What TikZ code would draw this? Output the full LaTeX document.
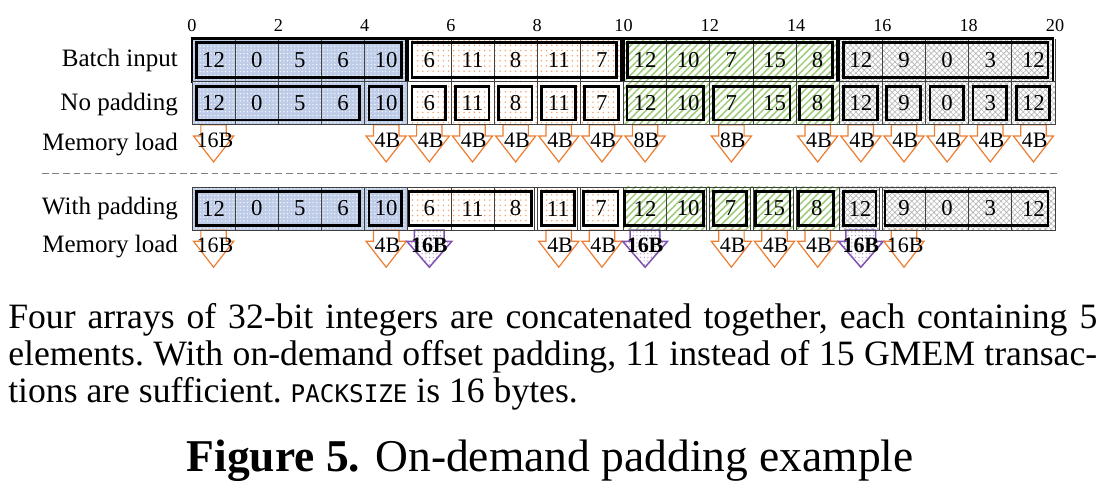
\documentclass[tikz,border=0pt]{standalone}
\usepackage{fontspec}
\setmainfont{Liberation Serif}
\newfontfamily\capmono{DejaVu Sans Mono}
\usepackage{tikz}
\usetikzlibrary{patterns,patterns.meta,positioning}
\definecolor{arrblue}{RGB}{190,204,232}
\definecolor{arrorange}{RGB}{244,164,112}
\definecolor{arrgreen}{RGB}{158,204,124}
\definecolor{arrgray}{RGB}{180,180,180}
\definecolor{ldorange}{RGB}{237,125,49}
\definecolor{ldpurple}{RGB}{128,82,178}
\newcommand{\memload}[4]{%
  \filldraw[draw=ldorange, fill=white, line width=0.8pt] (#2-0.295,#3) -- (#2-0.295,#3-0.26) -- (#2-0.465,#3-0.26) -- (#2,#3-0.86) -- (#2+0.465,#3-0.26) -- (#2+0.295,#3-0.26) -- (#2+0.295,#3) -- cycle;
  \node[font=\fontsize{14.5}{16}\selectfont, inner sep=0pt] (#1) at (#2+0.03,#3-0.35) {#4};}
\newcommand{\packload}[4]{%
  \fill[white] (#2-0.345,#3) -- (#2-0.345,#3-0.26) -- (#2-0.52,#3-0.26) -- (#2,#3-0.86) -- (#2+0.52,#3-0.26) -- (#2+0.345,#3-0.26) -- (#2+0.345,#3) -- cycle;
  \draw[draw=ldpurple, pattern={Dots[radius=0.45pt, distance=2.4pt]}, pattern color=ldpurple!60, line width=1pt] (#2-0.345,#3) -- (#2-0.345,#3-0.26) -- (#2-0.52,#3-0.26) -- (#2,#3-0.86) -- (#2+0.52,#3-0.26) -- (#2+0.345,#3-0.26) -- (#2+0.345,#3) -- cycle;
  \node[font=\fontsize{14.5}{16}\selectfont\bfseries, inner sep=0pt] (#1) at (#2,#3-0.35) {#4};}

\begin{document}
\begin{tikzpicture}[
    cell/.style={font=\fontsize{15}{17}\selectfont},
    tick/.style={font=\fontsize{12}{14}\selectfont},
    rowlabel/.style={font=\fontsize{16.5}{18}\selectfont, anchor=base east, inner sep=0pt},
    captext/.style={font=\fontsize{23.5}{27}\selectfont\frenchspacing, anchor=base west, inner sep=0pt},
    bluearr/.style={preaction={fill=arrblue}, pattern={Dots[radius=0.45pt, distance=2.4pt]}, pattern color=white},
    orangearr/.style={preaction={fill=white}, pattern={Dots[radius=0.55pt, distance=3.4pt]}, pattern color=arrorange},
    greenarr/.style={preaction={fill=white}, pattern={Lines[angle=45, distance=3.4pt, line width=1pt]}, pattern color=arrgreen},
    grayarr/.style={preaction={fill=white}, pattern={Hatch[angle=45, distance=2.6pt, line width=0.4pt]}, pattern color=arrgray},
    cellgrid/.style={draw=black!75, line width=0.5pt},
    padcell/.style={draw=black!75, line width=0.5pt, fill=white},
    arrbox/.style={draw=black, line width=1.4pt},
    ldbox/.style={draw=black, line width=1.8pt},
    sepline/.style={draw=black!50, line width=0.7pt, dash pattern=on 4.4pt off 2.6pt}
  ]
  \useasboundingbox (-4.450,-9.555) rectangle (21.460,1.893);

  \node[tick] (t0) at (0,1.31) {0};
  \node[tick] (t2) at (2,1.31) {2};
  \node[tick] (t4) at (4,1.31) {4};
  \node[tick] (t6) at (6,1.31) {6};
  \node[tick] (t8) at (8,1.31) {8};
  \node[tick] (t10) at (10,1.31) {10};
  \node[tick] (t12) at (12,1.31) {12};
  \node[tick] (t14) at (14,1.31) {14};
  \node[tick] (t16) at (16,1.31) {16};
  \node[tick] (t18) at (18,1.31) {18};
  \node[tick] (t20) at (20,1.31) {20};

  \node[rowlabel] (lbatch) at (-0.32,0.35) {Batch input};
  \node[rowlabel] (lnopad) at (-0.32,-0.66) {No padding};
  \node[rowlabel] (lmem1) at (-0.32,-1.60) {Memory load};
  \node[rowlabel] (lwpad) at (-0.32,-3.07) {With padding};
  \node[rowlabel] (lmem2) at (-0.32,-3.96) {Memory load};

  % batch input
  \path[bluearr] (0,0) rectangle (4.95,1);
  \path[orangearr] (5,0) rectangle (9.95,1);
  \path[greenarr] (10,0) rectangle (14.95,1);
  \path[grayarr] (15,0) rectangle (19.95,1);
  \draw[cellgrid, xstep=1, ystep=10] (0,0) grid (20,1);
  \draw[arrbox] (0,0) rectangle (4.95,1);
  \draw[arrbox] (5,0) rectangle (9.95,1);
  \draw[arrbox] (10,0) rectangle (14.95,1);
  \draw[arrbox] (15,0) rectangle (19.95,1);
  \draw[ldbox] (0.1,0.1) rectangle (4.86,0.9);
  \draw[ldbox] (5.1,0.1) rectangle (9.84,0.9);
  \draw[ldbox] (10.1,0.1) rectangle (14.84,0.9);
  \draw[ldbox] (15.1,0.1) rectangle (19.84,0.9);

  % no padding
  \path[bluearr] (0,-1) rectangle (5,0);
  \path[orangearr] (5,-1) rectangle (10,0);
  \path[greenarr] (10,-1) rectangle (15,0);
  \path[grayarr] (15,-1) rectangle (20,0);
  \memload{m1}{0.5}{-1}{16B}
  \memload{m2}{4.5}{-1}{4B}
  \memload{m3}{5.5}{-1}{4B}
  \memload{m4}{6.5}{-1}{4B}
  \memload{m5}{7.5}{-1}{4B}
  \memload{m6}{8.5}{-1}{4B}
  \memload{m7}{9.5}{-1}{4B}
  \memload{m8}{10.5}{-1}{8B}
  \memload{m9}{12.5}{-1}{8B}
  \memload{m10}{14.5}{-1}{4B}
  \memload{m11}{15.5}{-1}{4B}
  \memload{m12}{16.5}{-1}{4B}
  \memload{m13}{17.5}{-1}{4B}
  \memload{m14}{18.5}{-1}{4B}
  \memload{m15}{19.5}{-1}{4B}
  \draw[cellgrid, xstep=1, ystep=10] (0,-1) grid (20,0);
  \draw[cellgrid] (0,-1) rectangle (20,0);
  \draw[ldbox] (0.1,-0.89) rectangle (3.88,-0.11);
  \draw[ldbox] (4.1,-0.89) rectangle (4.86,-0.11);
  \draw[ldbox] (5.1,-0.89) rectangle (5.88,-0.11);
  \draw[ldbox] (6.1,-0.89) rectangle (6.88,-0.11);
  \draw[ldbox] (7.1,-0.89) rectangle (7.88,-0.11);
  \draw[ldbox] (8.1,-0.89) rectangle (8.88,-0.11);
  \draw[ldbox] (9.1,-0.89) rectangle (9.88,-0.11);
  \draw[ldbox] (10.08,-0.89) rectangle (11.86,-0.11);
  \draw[ldbox] (12.08,-0.89) rectangle (13.86,-0.11);
  \draw[ldbox] (14.08,-0.89) rectangle (14.84,-0.11);
  \draw[ldbox] (15.1,-0.89) rectangle (15.88,-0.11);
  \draw[ldbox] (16.1,-0.89) rectangle (16.88,-0.11);
  \draw[ldbox] (17.1,-0.89) rectangle (17.88,-0.11);
  \draw[ldbox] (18.1,-0.89) rectangle (18.88,-0.11);
  \draw[ldbox] (19.1,-0.89) rectangle (19.88,-0.11);

  \coordinate (sepl) at (-3.48,-2.12);
  \coordinate (sepr) at (20.1,-2.12);
  \draw[sepline] (sepl) -- (sepr);

  % with padding
  \path[bluearr] (0,-3.44) rectangle (5,-2.44);
  \path[orangearr] (5,-3.44) rectangle (10,-2.44);
  \path[greenarr] (10,-3.44) rectangle (15,-2.44);
  \path[grayarr] (15,-3.44) rectangle (20,-2.44);
  \memload{w1}{0.5}{-3.44}{16B}
  \memload{w2}{4.5}{-3.44}{4B}
  \packload{w3}{5.5}{-3.44}{16B}
  \memload{w4}{8.5}{-3.44}{4B}
  \memload{w5}{9.5}{-3.44}{4B}
  \packload{w6}{10.5}{-3.44}{16B}
  \memload{w7}{12.5}{-3.44}{4B}
  \memload{w8}{13.5}{-3.44}{4B}
  \memload{w9}{14.5}{-3.44}{4B}
  \packload{w10}{15.5}{-3.44}{16B}
  \memload{w11}{16.5}{-3.44}{16B}
  \draw[cellgrid, xstep=1, ystep=10] (0,-3.44) grid (20,-2.44);
  \draw[cellgrid] (0,-3.44) rectangle (20,-2.44);
  \draw[padcell] (7.93,-3.44) rectangle (8,-2.44);
  \draw[padcell] (8.93,-3.44) rectangle (9,-2.44);
  \draw[padcell] (11.93,-3.44) rectangle (12,-2.44);
  \draw[padcell] (12.93,-3.44) rectangle (13,-2.44);
  \draw[padcell] (13.93,-3.44) rectangle (14,-2.44);
  \draw[padcell] (15.93,-3.44) rectangle (16,-2.44);
  \draw[ldbox] (0.1,-3.33) rectangle (3.88,-2.55);
  \draw[ldbox] (4.1,-3.33) rectangle (4.86,-2.55);
  \draw[ldbox] (5.03,-3.33) rectangle (7.87,-2.55);
  \draw[ldbox] (8.1,-3.33) rectangle (8.87,-2.55);
  \draw[ldbox] (9.08,-3.33) rectangle (9.87,-2.55);
  \draw[ldbox] (10.03,-3.33) rectangle (11.86,-2.55);
  \draw[ldbox] (12.08,-3.33) rectangle (12.85,-2.55);
  \draw[ldbox] (13.06,-3.33) rectangle (13.86,-2.55);
  \draw[ldbox] (14.06,-3.33) rectangle (14.86,-2.55);
  \draw[ldbox] (15.09,-3.33) rectangle (15.85,-2.55);
  \draw[ldbox] (16.06,-3.33) rectangle (19.84,-2.55);

  \node[cell] (b1) at (0.5,0.5) {12};
  \node[cell] (b2) at (1.5,0.5) {0};
  \node[cell] (b3) at (2.5,0.5) {5};
  \node[cell] (b4) at (3.5,0.5) {6};
  \node[cell] (b5) at (4.5,0.5) {10};
  \node[cell] (b6) at (5.5,0.5) {6};
  \node[cell] (b7) at (6.5,0.5) {11};
  \node[cell] (b8) at (7.5,0.5) {8};
  \node[cell] (b9) at (8.5,0.5) {11};
  \node[cell] (b10) at (9.5,0.5) {7};
  \node[cell] (b11) at (10.5,0.5) {12};
  \node[cell] (b12) at (11.5,0.5) {10};
  \node[cell] (b13) at (12.5,0.5) {7};
  \node[cell] (b14) at (13.5,0.5) {15};
  \node[cell] (b15) at (14.5,0.5) {8};
  \node[cell] (b16) at (15.5,0.5) {12};
  \node[cell] (b17) at (16.5,0.5) {9};
  \node[cell] (b18) at (17.5,0.5) {0};
  \node[cell] (b19) at (18.5,0.5) {3};
  \node[cell] (b20) at (19.5,0.5) {12};

  \node[cell] (n1) at (0.5,-0.5) {12};
  \node[cell] (n2) at (1.5,-0.5) {0};
  \node[cell] (n3) at (2.5,-0.5) {5};
  \node[cell] (n4) at (3.5,-0.5) {6};
  \node[cell] (n5) at (4.5,-0.5) {10};
  \node[cell] (n6) at (5.5,-0.5) {6};
  \node[cell] (n7) at (6.5,-0.5) {11};
  \node[cell] (n8) at (7.5,-0.5) {8};
  \node[cell] (n9) at (8.5,-0.5) {11};
  \node[cell] (n10) at (9.5,-0.5) {7};
  \node[cell] (n11) at (10.5,-0.5) {12};
  \node[cell] (n12) at (11.5,-0.5) {10};
  \node[cell] (n13) at (12.5,-0.5) {7};
  \node[cell] (n14) at (13.5,-0.5) {15};
  \node[cell] (n15) at (14.5,-0.5) {8};
  \node[cell] (n16) at (15.5,-0.5) {12};
  \node[cell] (n17) at (16.5,-0.5) {9};
  \node[cell] (n18) at (17.5,-0.5) {0};
  \node[cell] (n19) at (18.5,-0.5) {3};
  \node[cell] (n20) at (19.5,-0.5) {12};

  \node[cell] (p1) at (0.5,-2.94) {12};
  \node[cell] (p2) at (1.5,-2.94) {0};
  \node[cell] (p3) at (2.5,-2.94) {5};
  \node[cell] (p4) at (3.5,-2.94) {6};
  \node[cell] (p5) at (4.5,-2.94) {10};
  \node[cell] (p6) at (5.5,-2.94) {6};
  \node[cell] (p7) at (6.5,-2.94) {11};
  \node[cell] (p8) at (7.5,-2.94) {8};
  \node[cell] (p9) at (8.48,-2.94) {11};
  \node[cell] (p10) at (9.48,-2.94) {7};
  \node[cell] (p11) at (10.5,-2.94) {12};
  \node[cell] (p12) at (11.5,-2.94) {10};
  \node[cell] (p13) at (12.48,-2.94) {7};
  \node[cell] (p14) at (13.48,-2.94) {15};
  \node[cell] (p15) at (14.48,-2.94) {8};
  \node[cell] (p16) at (15.48,-2.94) {12};
  \node[cell] (p17) at (16.5,-2.94) {9};
  \node[cell] (p18) at (17.5,-2.94) {0};
  \node[cell] (p19) at (18.5,-2.94) {3};
  \node[cell] (p20) at (19.5,-2.94) {12};

  \node[captext] (cap1) at (-4.264,-5.731) {\makebox[718pt][s]{Four arrays of 32-bit integers are concatenated together, each containing 5}};
  \node[captext] (cap2) at (-4.264,-6.582) {\makebox[718pt][s]{elements. With on-demand offset padding, 11 instead of 15 GMEM transac-}};
  \node[captext] (cap3) at (-4.264,-7.430) {tions are sufficient. {\capmono\fontsize{16}{18}\selectfont PACKSIZE} is 16 bytes.};
  \node[font=\fontsize{30}{34}\selectfont, anchor=base, inner sep=0pt] (figcap) at (8.30,-9.045) {\textbf{Figure 5.} On-demand padding example};
\end{tikzpicture}
\end{document}
